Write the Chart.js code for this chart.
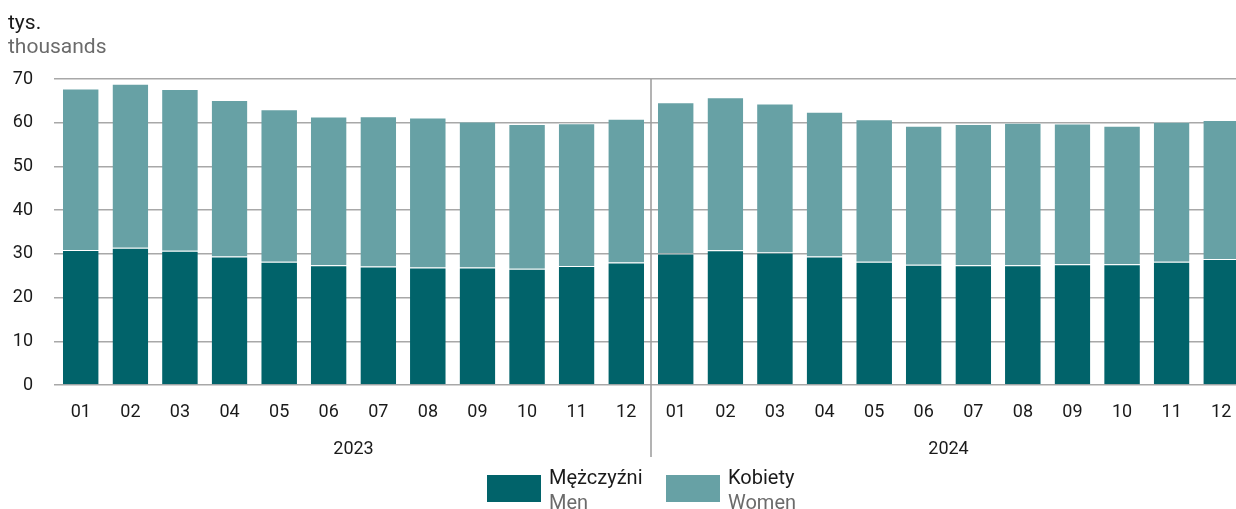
<!DOCTYPE html>
<html>
<head>
<meta charset="utf-8">
<script src="https://cdn.jsdelivr.net/npm/chart.js@4/dist/chart.umd.min.js"></script>
<style>
    body { margin: 0; overflow: hidden; background: #fff; font-family: Roboto, sans-serif; }
    #wrap { position: absolute; left: 0; top: 0; width: 1250px; height: 509px; }
    .unit { position: absolute; left: 8px; top: 10px; font-size: 21px; line-height: 24px; color: #1a1a1a; }
    .gray { color: #6b6b6b; }
    .legend-box { position: absolute; top: 475px; width: 54px; height: 27px; }
    .legend-text { position: absolute; top: 465px; font-size: 20px; line-height: 25px; color: #1a1a1a; }
</style>
</head>
<body>
<div id="wrap"><canvas id="chart"></canvas></div>
<div class="unit">tys.<br><span class="gray">thousands</span></div>
<div class="legend-box" id="box-men" style="left:487px"></div>
<div class="legend-text" style="left:549px">Mężczyźni<br><span class="gray">Men</span></div>
<div class="legend-box" id="box-women" style="left:666px"></div>
<div class="legend-text" style="left:728px">Kobiety<br><span class="gray">Women</span></div>

<script>
// miesiące 2023 i 2024
const months = ['01', '02', '03', '04', '05', '06', '07', '08', '09', '10', '11', '12',
    '01', '02', '03', '04', '05', '06', '07', '08', '09', '10', '11', '12'];
const years = ['2023', '2024'];

// tys. osób
const men = [30.9, 31.4, 30.7, 29.4, 28.2, 27.4, 27.1, 26.9, 26.9, 26.6, 27.2, 28.0,
    30.1, 30.8, 30.3, 29.4, 28.2, 27.5, 27.4, 27.4, 27.6, 27.6, 28.2, 28.8];
const women = [36.9, 37.5, 37.0, 35.8, 34.9, 34.0, 34.4, 34.3, 33.4, 33.1, 32.7, 32.9,
    34.6, 35.0, 34.1, 33.1, 32.6, 31.8, 32.3, 32.6, 32.2, 31.7, 32.0, 31.8];

const menColor = '#01636a';
const womenColor = '#67a1a5';

document.getElementById('box-men').style.background = menColor;
document.getElementById('box-women').style.background = womenColor;

// linia oddzielająca lata
const yearSeparator = {
    id: 'yearSeparator',
    afterDraw(chart) {
        const x = chart.scales.x;
        const px = (x.getPixelForTick(11) + x.getPixelForTick(12)) / 2;
        const ctx = chart.ctx;
        ctx.save();
        ctx.strokeStyle = '#9a9a9a';
        ctx.lineWidth = 1.5;
        ctx.beginPath();
        ctx.moveTo(px, chart.chartArea.top);
        ctx.lineTo(px, 457);
        ctx.stroke();
        ctx.restore();
    }
};

const barStyle = {
    barPercentage: 0.72,
    categoryPercentage: 1,
    borderWidth: { top: 1, left: 0, right: 0, bottom: 0 },
    borderColor: 'rgba(255,255,255,0.45)'
};

new Chart(document.getElementById('chart'), {
    type: 'bar',
    data: {
        labels: months,
        datasets: [
            { label: 'Mężczyźni', data: men, backgroundColor: menColor, ...barStyle },
            { label: 'Kobiety', data: women, backgroundColor: womenColor, ...barStyle }
        ]
    },
    options: {
        responsive: true,
        maintainAspectRatio: false,
        animation: false,
        layout: { padding: { top: 79, right: 4, left: 0, bottom: 0 } },
        plugins: {
            legend: { display: false },
            tooltip: { enabled: false }
        },
        scales: {
            x: {
                stacked: true,
                grid: { display: false },
                border: { display: false },
                ticks: { color: '#1a1a1a', font: { family: 'Roboto', size: 18 }, padding: 9, maxRotation: 0, autoSkip: false },
                afterFit(scale) { scale.height = 40; }
            },
            x2: {
                type: 'category',
                labels: years,
                position: 'bottom',
                offset: true,
                grid: { display: false },
                border: { display: false },
                ticks: { color: '#1a1a1a', font: { family: 'Roboto', size: 18 }, padding: 6 },
                afterFit(scale) { scale.height = 84; }
            },
            y: {
                stacked: true,
                min: 0,
                max: 70,
                ticks: { stepSize: 10, color: '#1a1a1a', font: { family: 'Roboto', size: 18 }, padding: 21 },
                grid: { color: '#a8a8a8', lineWidth: 1.5, tickLength: 2 },
                border: { display: false },
                afterFit(scale) { scale.width = 56; }
            }
        }
    },
    plugins: [yearSeparator]
});
</script>
</body>
</html>
